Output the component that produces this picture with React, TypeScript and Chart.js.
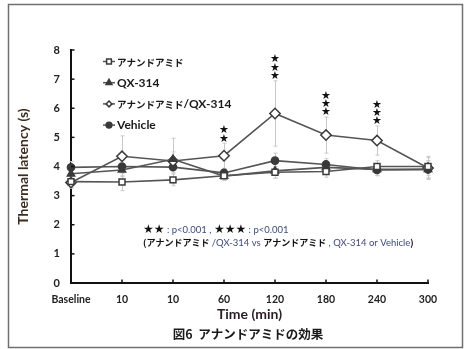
import { useEffect, useRef } from "react";
import { Chart, registerables } from "chart.js";

Chart.register(...registerables);

const categories = ["Baseline", "10", "10", "60", "120", "180", "240", "300"];
const seriesNames = ["アナンドアミド", "QX-314", "アナンドアミド/QX-314", "Vehicle"];

const anandamide = [3.48, 3.47, 3.54, 3.68, 3.8, 3.83, 4.0, 4.0];
const anandamideErr = [0.2, 0.3, 0.2, 0.15, 0.2, 0.2, 0.2, 0.3];
const qx314 = [3.75, 3.88, 4.25, 3.67, 3.85, 3.97, 3.9, 3.9];
const qx314Err = [0.2, 0.2, 0.25, 0.15, 0.25, 0.2, 0.2, 0.3];
const combo = [3.45, 4.35, 4.19, 4.37, 5.82, 5.08, 4.89, 3.95];
const comboErr = [0.2, 0.7, 0.78, 0.43, 1.12, 0.62, 0.5, 0.4];
const vehicle = [3.97, 4.0, 3.98, 3.78, 4.2, 4.07, 3.88, 3.9];
const vehicleErr = [0.2, 0.2, 0.2, 0.15, 0.26, 0.2, 0.2, 0.3];

const sigStars = [0, 0, 0, 2, 3, 3, 3, 0];
const yMin = 0;
const yMax = 8;
const yStep = 1;

const caption = "図6  アナンドアミドの効果";
const yTitle = "Thermal latency (s)";
const xTitle = "Time (min)";
const noteLine1 = [
  { t: "★★", k: "star" },
  { t: " : p<0.001 , ", k: "blue" },
  { t: "★★★", k: "star" },
  { t: " : p<0.001", k: "blue" },
];
const noteLine2 = [
  { t: "(アナンドアミド", k: "jp" },
  { t: " /QX-314 vs ", k: "blue" },
  { t: "アナンドアミド", k: "jp" },
  { t: " , QX-314 or Vehicle", k: "blue" },
  { t: ")", k: "jp" },
];

const LATIN = "Lato, 'Noto Sans CJK JP', sans-serif";
const CJK = "'Noto Sans CJK JP', sans-serif";
const LINE = "#555555";
const MARK = "#3a3a3a";

const errors = [anandamideErr, qx314Err, comboErr, vehicleErr];
const styles = ["rect", "triangle", "rectRot", "circle"];
const fills = ["#ffffff", MARK, "#ffffff", MARK];
const radii = [4.2, 4.2, 5.2, 3.6];

function isCJK(ch: string) {
  return /[\u3000-\u30ff\u4e00-\u9fff\uff00-\uffef]/.test(ch);
}

function splitRuns(text: string, latinFont: string, cjkFont: string, color: string) {
  const runs: { t: string; f: string; c: string }[] = [];
  for (const ch of text) {
    const f = isCJK(ch) ? cjkFont : latinFont;
    const last = runs[runs.length - 1];
    if (last && last.f === f) last.t += ch;
    else runs.push({ t: ch, f, c: color });
  }
  return runs;
}

function drawRuns(ctx: CanvasRenderingContext2D, x: number, y: number, runs: { t: string; f: string; c: string }[]) {
  ctx.textBaseline = "middle";
  ctx.textAlign = "left";
  let cx = x;
  for (const r of runs) {
    ctx.font = r.f;
    ctx.fillStyle = r.c;
    ctx.fillText(r.t, cx, y);
    cx += ctx.measureText(r.t).width;
  }
  return cx;
}

function drawMarker(ctx: CanvasRenderingContext2D, style: string, x: number, y: number, r: number, fill: string) {
  ctx.save();
  ctx.beginPath();
  if (style === "rect") {
    const s = r * Math.SQRT1_2;
    ctx.rect(x - s, y - s, 2 * s, 2 * s);
  } else if (style === "rectRot") {
    const s = r * Math.SQRT1_2;
    ctx.moveTo(x - s, y);
    ctx.lineTo(x, y + s);
    ctx.lineTo(x + s, y);
    ctx.lineTo(x, y - s);
    ctx.closePath();
  } else if (style === "triangle") {
    ctx.moveTo(x, y - r);
    ctx.lineTo(x + r * 0.87, y + r * 0.5);
    ctx.lineTo(x - r * 0.87, y + r * 0.5);
    ctx.closePath();
  } else {
    ctx.arc(x, y, r, 0, Math.PI * 2);
  }
  ctx.fillStyle = fill;
  ctx.fill();
  ctx.lineWidth = 1.5;
  ctx.strokeStyle = MARK;
  ctx.stroke();
  ctx.restore();
}

const customPlugin = {
  id: "customDecor",
  beforeDatasetsDraw(chart: any) {
    const { ctx } = chart;
    const xs = chart.scales.x;
    const ys = chart.scales.y;
    ctx.save();
    ctx.strokeStyle = "#c8c8c8";
    ctx.lineWidth = 1;
    chart.data.datasets.forEach((ds: any, di: number) => {
      const errs = errors[di];
      ds.data.forEach((v: number, i: number) => {
        const px = Math.round(xs.getPixelForValue(i)) + 0.5;
        const top = ys.getPixelForValue(v + errs[i]);
        const bot = ys.getPixelForValue(v - errs[i]);
        ctx.beginPath();
        ctx.moveTo(px, top);
        ctx.lineTo(px, bot);
        ctx.moveTo(px - 2, top);
        ctx.lineTo(px + 2, top);
        ctx.moveTo(px - 2, bot);
        ctx.lineTo(px + 2, bot);
        ctx.stroke();
      });
    });
    ctx.restore();
  },
  afterDraw(chart: any) {
    const { ctx } = chart;
    const xs = chart.scales.x;
    const ys = chart.scales.y;
    const area = chart.chartArea;
    ctx.save();

    // inner tick marks
    ctx.strokeStyle = "#111";
    ctx.lineWidth = 1.5;
    ys.ticks.forEach((_t: any, i: number) => {
      const py = ys.getPixelForTick(i);
      ctx.beginPath();
      ctx.moveTo(area.left, py);
      ctx.lineTo(area.left + 3.5, py);
      ctx.stroke();
    });
    categories.forEach((_c, i) => {
      const px = xs.getPixelForValue(i);
      ctx.beginPath();
      ctx.moveTo(px, area.bottom);
      ctx.lineTo(px, area.bottom - 3.5);
      ctx.stroke();
    });

    // legend
    const legX = 103;
    const legY0 = 61.5;
    const legDy = 21.2;
    seriesNames.forEach((name, i) => {
      const yy = legY0 + i * legDy;
      ctx.strokeStyle = LINE;
      ctx.lineWidth = 1.5;
      ctx.beginPath();
      ctx.moveTo(legX, yy);
      ctx.lineTo(legX + 12, yy);
      ctx.stroke();
      drawMarker(ctx, styles[i], legX + 6, yy, radii[i] * 0.8, fills[i]);
      drawRuns(ctx, legX + 14, yy + 0.5, splitRuns(name, "bold 12px " + LATIN, "bold 9.5px " + CJK, "#1a1a1a"));
    });

    // significance stars
    ctx.fillStyle = "#111";
    ctx.font = "11px 'DejaVu Sans', sans-serif";
    ctx.textAlign = "center";
    ctx.textBaseline = "middle";
    sigStars.forEach((n, i) => {
      if (!n) return;
      const top = ys.getPixelForValue(combo[i] + comboErr[i]);
      const px = xs.getPixelForValue(i);
      for (let k = 0; k < n; k++) {
        ctx.fillText("★", px, top - 4.5 - k * 8.4);
      }
    });

    // note text
    const fontFor = (k: string) =>
      k === "star"
        ? { f: "12px 'DejaVu Sans', sans-serif", c: "#111" }
        : k === "blue"
        ? { f: "9.5px " + LATIN, c: "#3b4a80" }
        : { f: "bold 9px " + CJK, c: "#111" };
    drawRuns(ctx, 143, 230, noteLine1.map((r) => ({ t: r.t, ...fontFor(r.k) })));
    drawRuns(ctx, 143, 243, noteLine2.map((r) => ({ t: r.t, ...fontFor(r.k) })));

    // caption
    ctx.fillStyle = "#1a1a1a";
    ctx.font = "bold 12.5px " + CJK;
    ctx.textAlign = "center";
    ctx.textBaseline = "middle";
    ctx.fillText(caption, 248, 334);

    // frame
    ctx.strokeStyle = "#707070";
    ctx.lineWidth = 1.5;
    ctx.strokeRect(8.5, 4.5, 454, 343);
    ctx.restore();
  },
};

export default function App() {
  const ref = useRef<HTMLCanvasElement>(null);

  useEffect(() => {
    if (!ref.current) return;
    const all = [anandamide, qx314, combo, vehicle];
    const chart = new Chart(ref.current, {
      type: "line",
      data: {
        labels: categories,
        datasets: all.map((d, i) => ({
          label: seriesNames[i],
          data: d,
          borderColor: LINE,
          borderWidth: 1.6,
          pointStyle: styles[i] as any,
          pointRadius: radii[i],
          pointBackgroundColor: fills[i],
          pointBorderColor: MARK,
          pointBorderWidth: 1.5,
          tension: 0,
          fill: false,
        })),
      },
      options: {
        animation: false,
        responsive: true,
        maintainAspectRatio: false,
        layout: { padding: { left: 0, top: 50, right: 36, bottom: 0 } },
        plugins: {
          legend: { display: false },
          tooltip: { enabled: false },
        },
        scales: {
          x: {
            type: "category",
            offset: false,
            grid: { display: true, drawOnChartArea: false, drawTicks: false },
            border: { display: true, color: "#111", width: 2 },
            ticks: {
              padding: 10,
              color: "#222",
              font: { family: LATIN, size: 10.5, weight: "bold" },
              maxRotation: 0,
              autoSkip: false,
            },
            title: {
              display: true,
              text: xTitle,
              color: "#2a1c24",
              font: { family: LATIN, size: 14, weight: "bold" },
              padding: { top: 0, bottom: 26 },
            },
            afterFit: (s: any) => {
              s.height = 66;
            },
          },
          y: {
            min: yMin,
            max: yMax,
            grid: { display: true, drawOnChartArea: false, drawTicks: false },
            border: { display: true, color: "#111", width: 2 },
            ticks: {
              stepSize: yStep,
              padding: 11,
              color: "#222",
              font: { family: LATIN, size: 11, weight: "bold" },
            },
            title: {
              display: true,
              text: yTitle,
              color: "#3d2b1f",
              font: { family: LATIN, size: 14, weight: "bold" },
              padding: { top: 15, bottom: 0 },
            },
            afterFit: (s: any) => {
              s.width = 71;
            },
          },
        },
      },
      plugins: [customPlugin],
    });
    return () => chart.destroy();
  }, []);

  return (
    <div style={{ position: "absolute", left: 0, top: 0, width: 464, height: 349, background: "#fff" }}>
      <canvas ref={ref} />
    </div>
  );
}
